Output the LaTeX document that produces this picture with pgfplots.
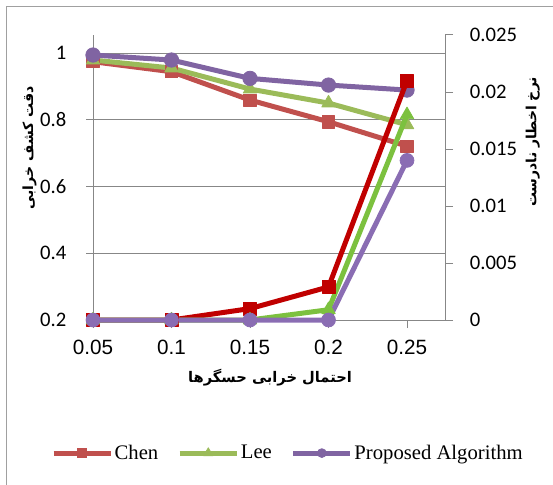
\documentclass[border=0pt]{standalone}
\usepackage{pgfplots}
\pgfplotsset{compat=1.18}
\usepackage{pgfplotstable}
\usepackage{fontspec}
\setmainfont{Liberation Serif}
\newfontfamily\calibri{Carlito}
\newfontfamily\arialf{Liberation Sans}
\newfontfamily\fa[Script=Arabic]{DejaVu Sans}
\TeXXeTstate=1
\definecolor{chenA}{HTML}{C0504D}
\definecolor{leeA}{HTML}{9BBB59}
\definecolor{propA}{HTML}{8064A2}
\definecolor{chenB}{HTML}{C00000}
\definecolor{leeB}{HTML}{7CC13F}
\definecolor{propB}{HTML}{8A6DB3}
\definecolor{axgray}{HTML}{878787}
\definecolor{framegray}{HTML}{A0A0A0}

\pgfplotstableread{
x chen lee prop
0.05 0.974 0.979 0.994
0.10 0.944 0.955 0.979
0.15 0.859 0.892 0.924
0.20 0.794 0.850 0.904
0.25 0.721 0.785 0.889
}\acc
\pgfplotstableread{
x chen lee prop
0.05 0 0 0
0.10 0 0 0
0.15 0.0010 0 0
0.20 0.0029 0.0009 0
0.25 0.0210 0.0180 0.0140
}\far

\pgfplotsset{
  common/.style={
    at={(69.75pt,-240pt)}, anchor=south west,
    scale only axis, width=264pt, height=213.75pt,
    xmin=0.05, xmax=0.2742, clip=false,
    axis line style={axgray, line width=0.75pt},
    every tick/.style={axgray, line width=0.75pt},
  },
  ser/.style={line width=3.75pt, mark options={solid, line width=0.6pt}, line join=round},
}
\begin{document}
\begin{tikzpicture}
\useasboundingbox (0,0) rectangle (414.75pt,-363.75pt);
\draw[framegray, line width=0.75pt] (4.5pt,-363.75pt) -- (4.5pt,-5.25pt) -- (414.75pt,-5.25pt);
\begin{axis}[common,
  ymin=0.2, ymax=1.054,
  axis x line*=bottom, axis y line*=left,
  tick align=center, major tick length=9.75pt,
  xtick={0.05,0.1,0.15,0.2,0.25},
  xticklabels={0.05,0.1,0.15,0.2,0.25},
  xtick style={draw=none},
  x tick label style={font=\arialf\fontsize{15.5}{18}\selectfont, inner sep=0pt, anchor=north, yshift=-10pt},
  ytick={0.2,0.4,0.6,0.8,1},
  yticklabels={0.2,0.4,0.6,0.8,1},
  y tick label style={font=\calibri\fontsize{15.5}{18}\selectfont, inner sep=0pt, anchor=east, xshift=-15pt},
  ymajorgrids, y grid style={axgray, line width=0.75pt},
  legend style={at={(0.553,-0.467)}, anchor=center, draw=none, fill=none,
    font=\fontsize{15.5}{18}\selectfont, nodes={inner sep=1.2pt},
    /tikz/every even column/.append style={column sep=13pt}},
  legend columns=3,
  legend image code/.code={\draw[mark repeat=2, mark phase=2] plot coordinates {(0pt,0pt) (21.4pt,0pt) (42.8pt,0pt)};},
]
\addplot[ser, color=chenA, mark=square*, mark size=4.6pt, forget plot] table[x=x, y=chen] {\acc};
\addplot[ser, color=leeA, mark=triangle*, mark size=5.8pt, forget plot] table[x=x, y=lee] {\acc};
\addplot[ser, color=propA, mark=*, mark size=5.4pt, forget plot] table[x=x, y=prop] {\acc};
\addlegendimage{ser, color=chenA, mark=square*, mark size=3.5pt}
\addlegendentry{Chen}
\addlegendimage{ser, color=leeA, mark=triangle*, mark size=4pt}
\addlegendentry{Lee}
\addlegendimage{ser, color=propA, mark=*, mark size=3.3pt}
\addlegendentry{Proposed Algorithm}
\end{axis}
\begin{axis}[common,
  ymin=0, ymax=0.025,
  axis x line*=bottom, axis y line*=right,
  tick align=outside, major tick length=6pt,
  scaled y ticks=false,
  xtick={0.05,0.1,0.15,0.2,0.25}, xticklabels={},
  ytick={0,0.005,0.01,0.015,0.02,0.025},
  yticklabels={0,0.005,0.01,0.015,0.02,0.025},
  y tick label style={font=\calibri\fontsize{15.5}{18}\selectfont, inner sep=0pt, anchor=west, xshift=12.5pt},
]
\addplot[ser, color=chenB, mark=square*, mark size=4.8pt] table[x=x, y=chen] {\far};
\addplot[ser, color=leeB, mark=triangle*, mark size=5.8pt] table[x=x, y=lee] {\far};
\addplot[ser, color=propB, mark=*, mark size=5.2pt] table[x=x, y=prop] {\far};
\end{axis}
\node[font=\fa\bfseries\fontsize{11}{13}\selectfont] at (202.5pt,-283.5pt) {\beginR احتمال خرابی حسگرها\endR};
\node[rotate=90, font=\fa\bfseries\fontsize{10.5}{13}\selectfont] at (22.1pt,-111pt) {\beginR دقت کشف خرابی\endR};
\node[rotate=90, font=\fa\bfseries\fontsize{10.5}{13}\selectfont] at (399.5pt,-106.5pt) {\beginR نرخ اخطار نادرست\endR};
\end{tikzpicture}
\end{document}
